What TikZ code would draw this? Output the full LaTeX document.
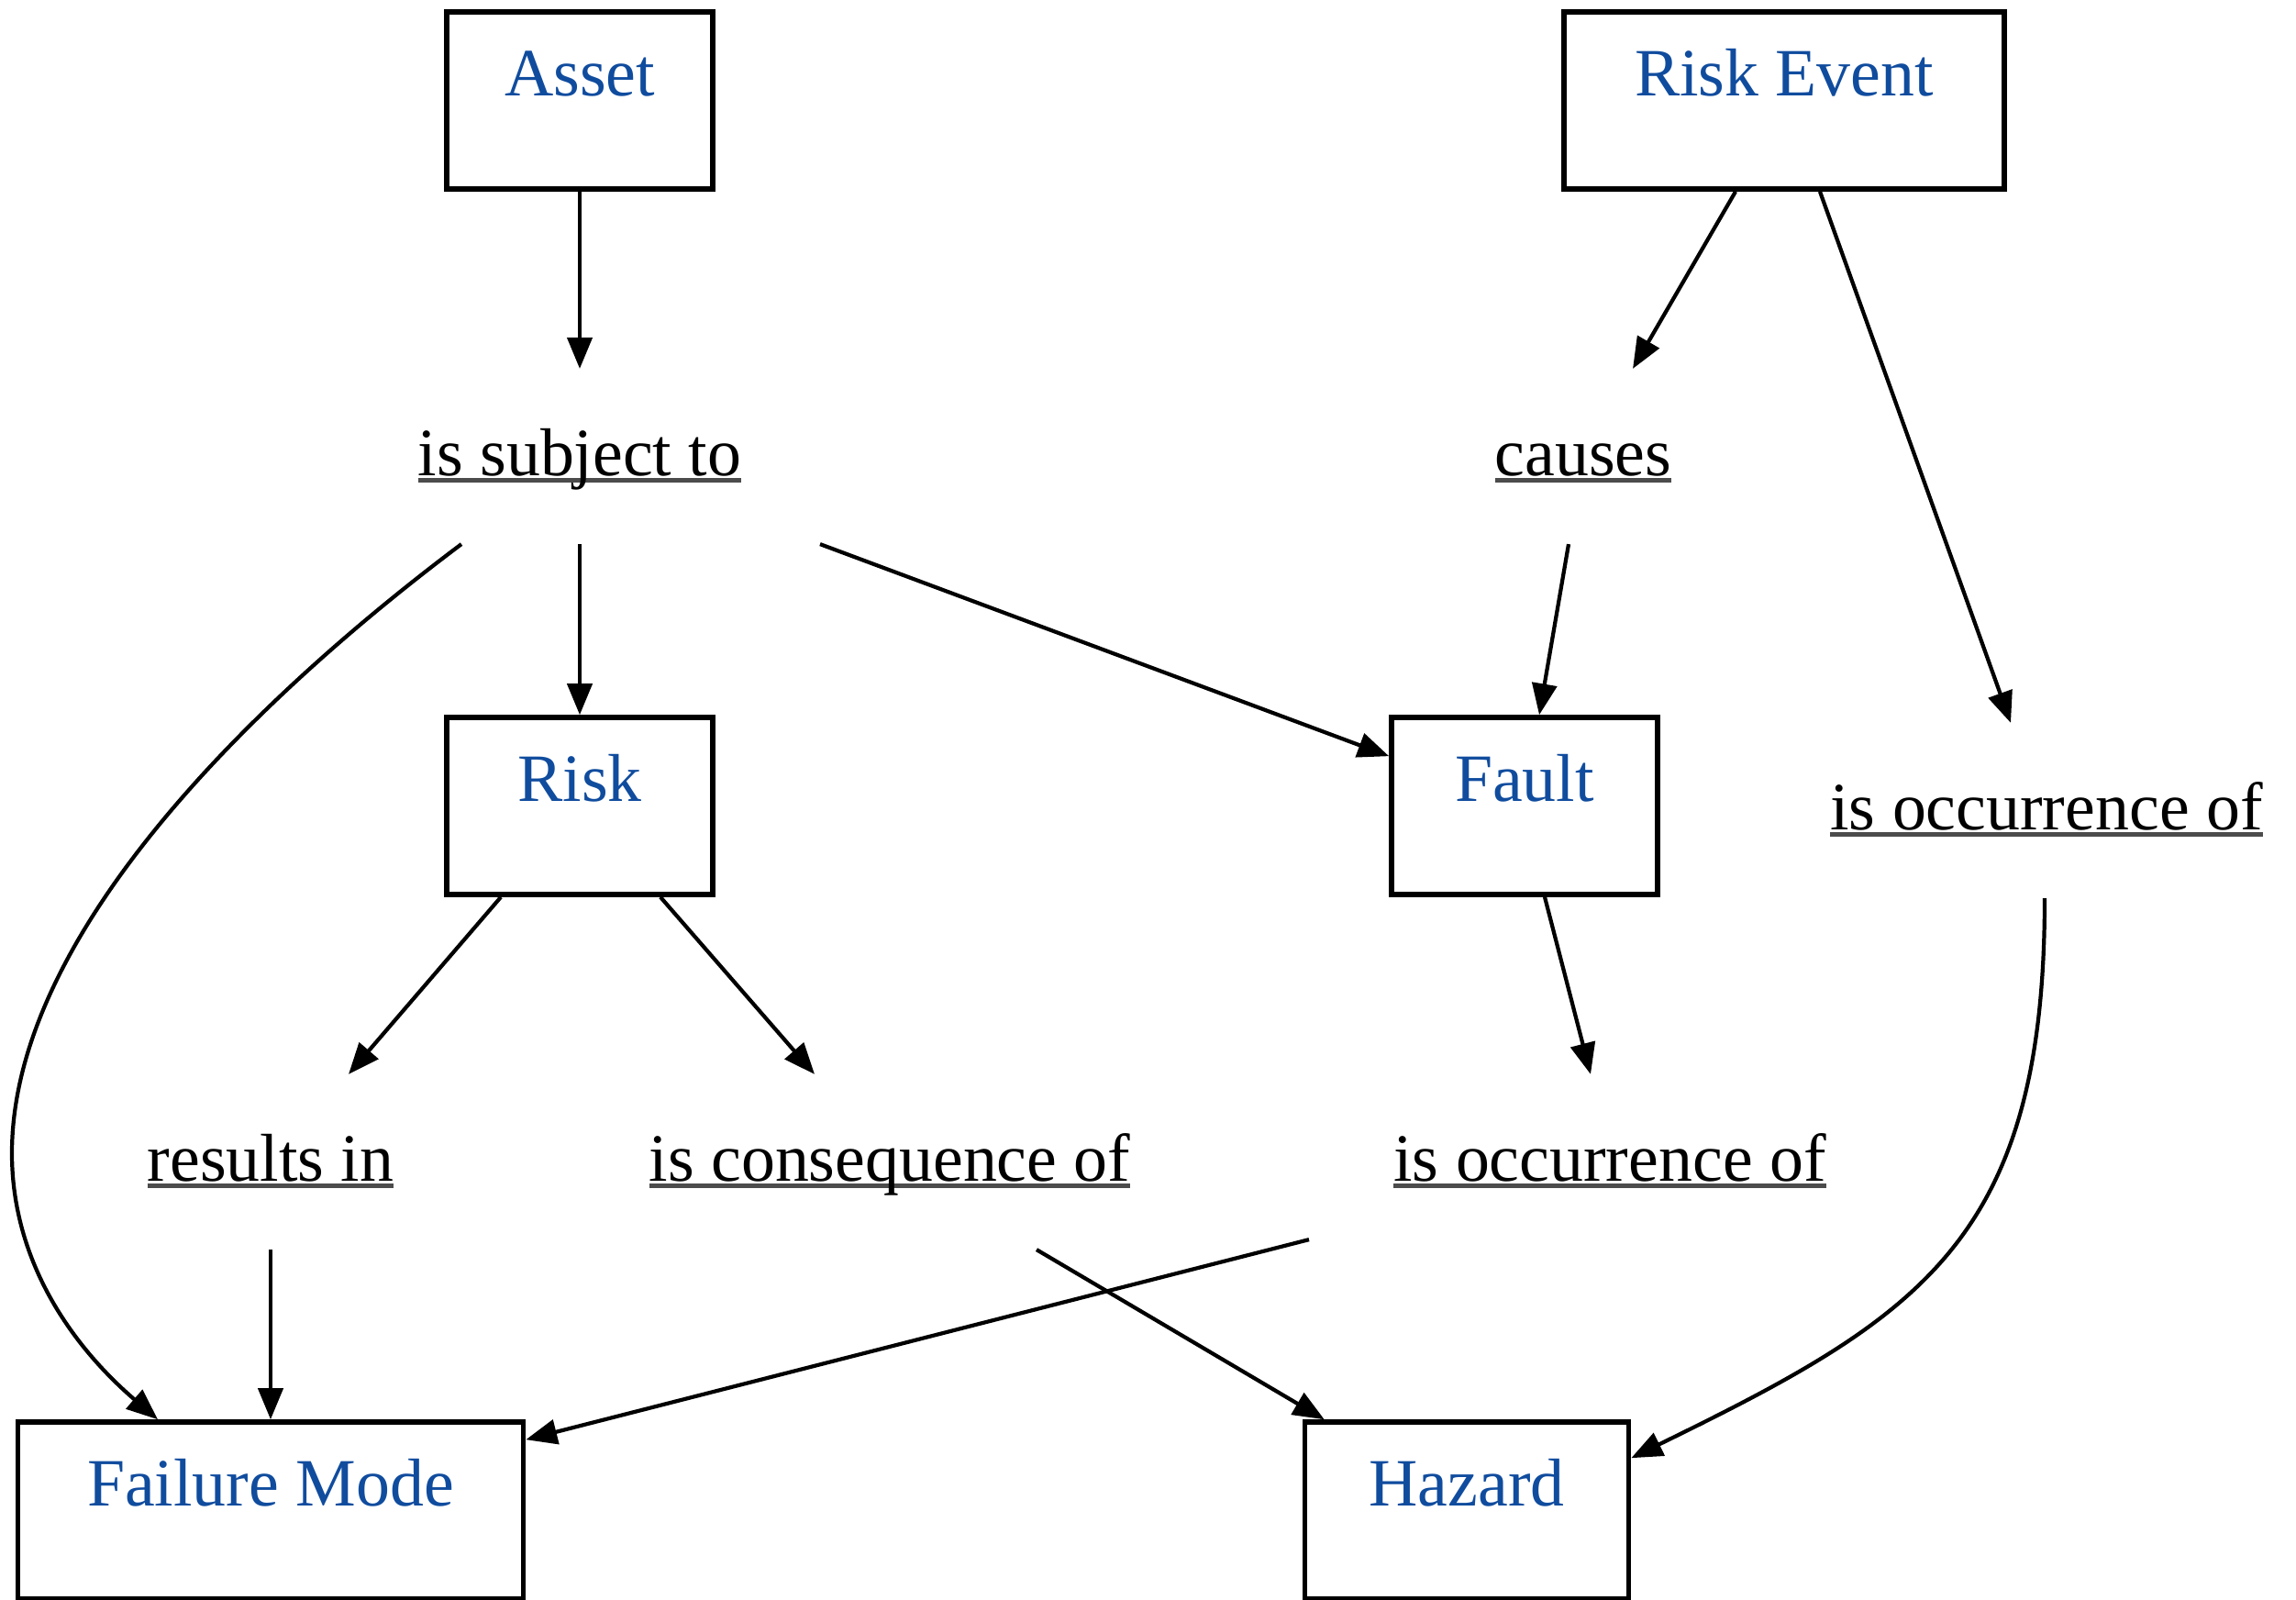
\documentclass[tikz,border=0pt]{standalone}
\usepackage{fontspec}
\setmainfont{Liberation Serif}
\usetikzlibrary{arrows.meta, positioning}

\definecolor{conceptblue}{RGB}{16,76,158}
\newcommand{\relword}[1]{\setbox0=\hbox{#1}\rlap{\color{black!70}\rule[-0.075cm]{\wd0}{0.045cm}}\box0}

\begin{document}
\begin{tikzpicture}[
    ->,
    >={Triangle[length=0.34cm, width=0.27cm]},
    line width=1.2pt,
    on grid,
    font=\fontsize{21}{25}\selectfont,
    concept/.style={draw, line width=1.6pt, inner sep=0pt, minimum width=2.9cm,
                    text height=0.91cm, text depth=1.02cm, text=conceptblue},
    relation/.style={inner sep=0pt, text height=1.14cm, text depth=0.73cm},
]
    \useasboundingbox (0,0) rectangle (25.03,-17.43);

    \node[concept]                                         (asset)    at (6.32,-1.095) {Asset};
    \node[concept, minimum width=4.8cm, right=13.13cm of asset] (event) {Risk Event};
    \node[relation, below=3.88cm of asset]                 (subject)  {\relword{is subject to}};
    \node[relation, below left=3.88cm and 2.19cm of event] (causes)   {\relword{causes}};
    \node[concept, below=3.81cm of subject]                (risk)     {Risk};
    \node[concept, right=10.30cm of risk]                  (fault)    {Fault};
    \node[relation, below right=7.74cm and 2.86cm of event] (occright) {\relword{is occurrence of}};
    \node[relation, below left=3.88cm and 3.37cm of risk]  (results)  {\relword{results in}};
    \node[relation, below right=3.88cm and 3.38cm of risk] (conseq)   {\relword{is consequence of}};
    \node[relation, below right=3.88cm and 0.93cm of fault] (occmid)  {\relword{is occurrence of}};
    \node[concept, minimum width=5.51cm, below=3.80cm of results]              (failmode) {Failure Mode};
    \node[concept, minimum width=3.53cm, below left=3.80cm and 1.56cm of occmid] (hazard) {Hazard};

    \coordinate (loopleft) at (0.13,-12.57);

    \path
        (asset.south)                      edge (subject.north)
        ([xshift=-0.53cm]event.south)      edge ([xshift=0.54cm]causes.north)
        ([xshift=0.39cm]event.south)       edge ([xshift=-0.39cm]occright.north)
        (subject.south)                    edge (risk.north)
        ([xshift=2.62cm]subject.south)     edge ([yshift=-0.45cm]fault.north west)
        ([xshift=-0.16cm]causes.south)     edge ([xshift=0.16cm]fault.north)
        ([xshift=-0.86cm]risk.south)       edge ([xshift=0.85cm]results.north)
        ([xshift=0.88cm]risk.south)        edge ([xshift=-0.82cm]conseq.north)
        ([xshift=0.22cm]fault.south)       edge ([xshift=-0.21cm]occmid.north)
        (results.south)                    edge (results.south |- failmode.north)
        ([xshift=1.60cm]conseq.south)      edge ([xshift=0.24cm]hazard.north west)
        ([xshift=-3.28cm, yshift=0.11cm]occmid.south) edge ([yshift=-0.22cm]failmode.north east)
    ;

    % long curved links
    \draw ([xshift=-1.29cm]subject.south)
        .. controls +(-2.0,-1.5) and +(0,2.5) .. (loopleft)
        .. controls +(0,-1.2) and +(-0.91,0.78) .. ([xshift=-1.23cm]failmode.north);
    \draw ([xshift=-0.02cm]occright.south)
        .. controls +(0,-3.73) and +(3.15,1.54) .. ([yshift=-0.42cm]hazard.north east);
\end{tikzpicture}
\end{document}
